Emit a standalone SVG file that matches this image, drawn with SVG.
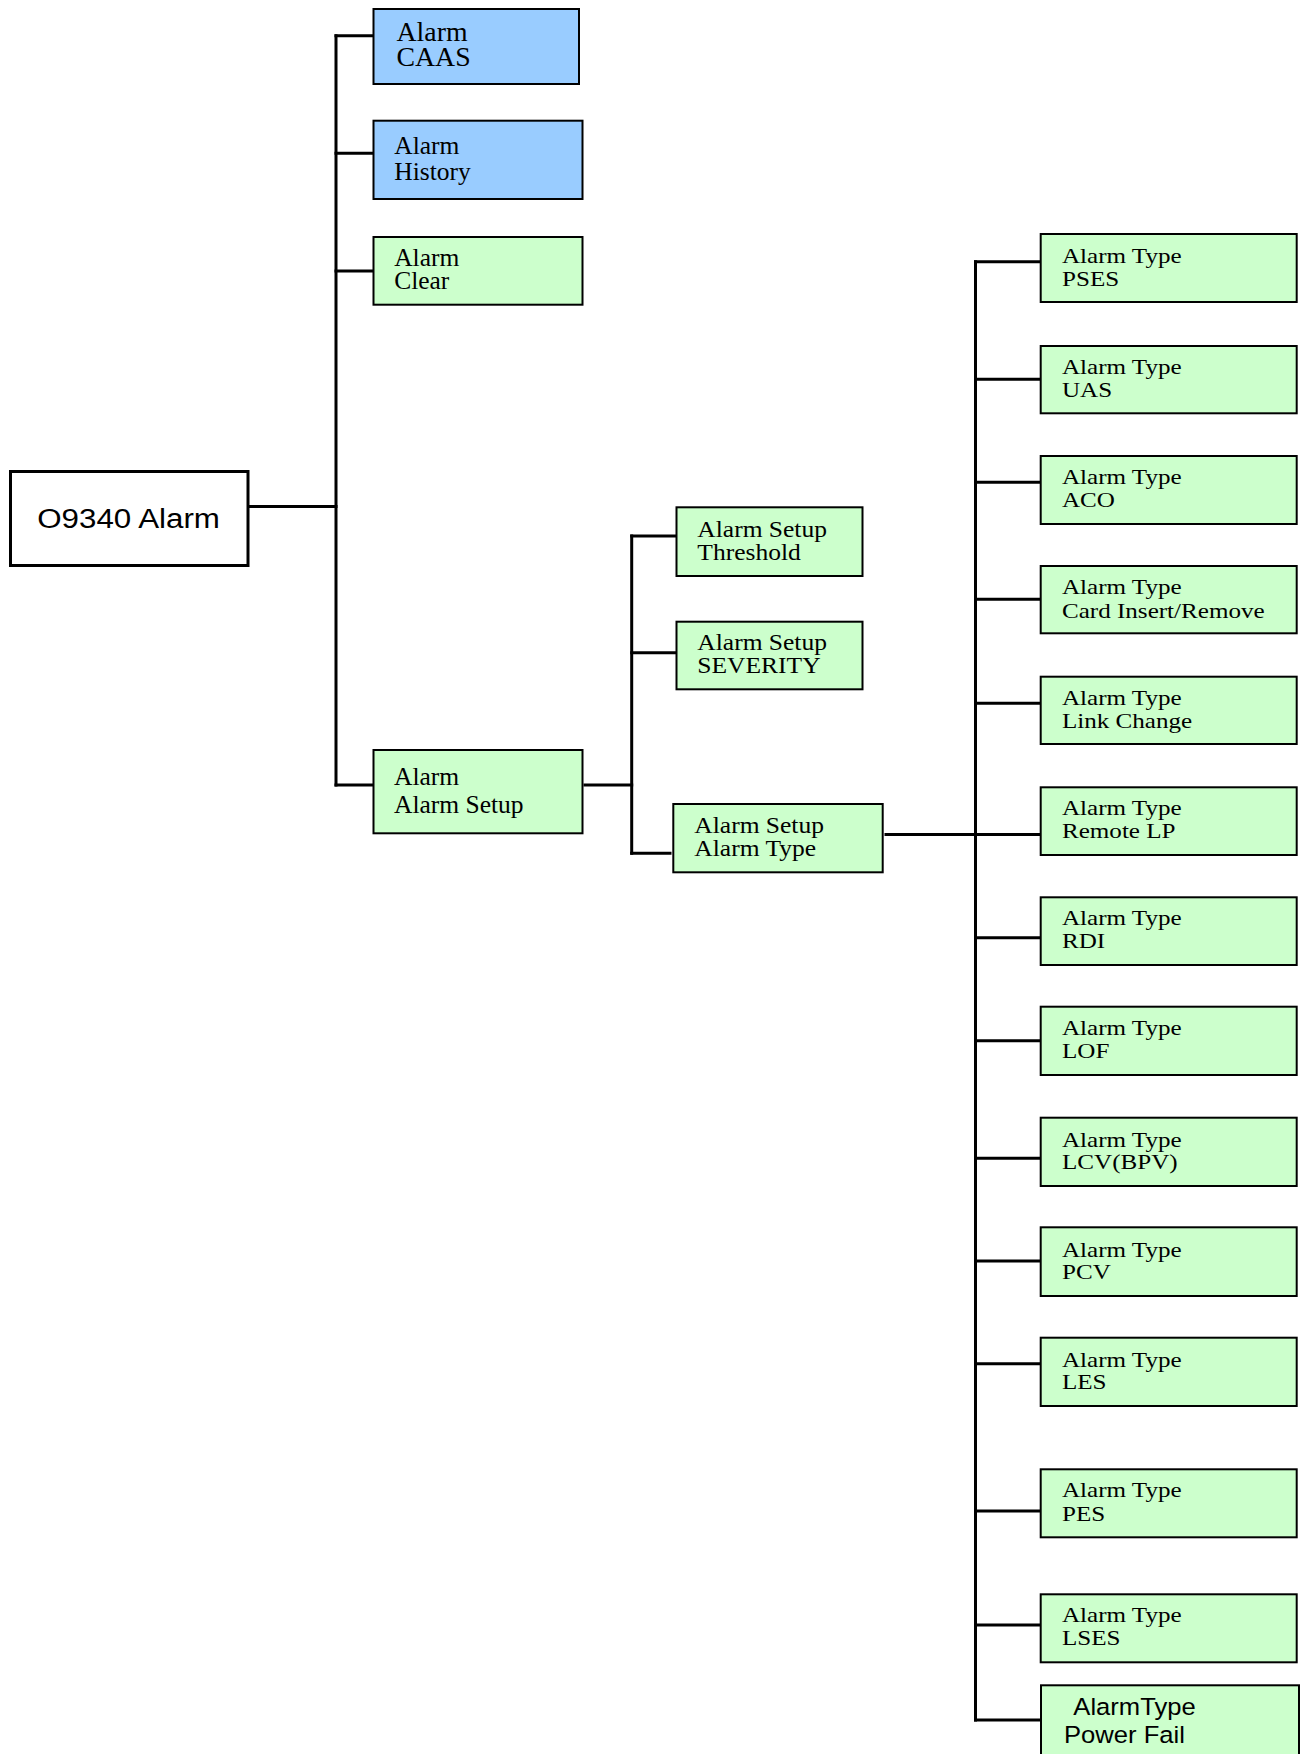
<svg xmlns="http://www.w3.org/2000/svg" width="1305" height="1754" viewBox="0 0 1305 1754">
  <style>
    .box { stroke: #000; stroke-width: 2; }
    .root { fill: #fff; stroke: #000; stroke-width: 3; }
    .blue { fill: #99ccff; }
    .green { fill: #ccffcc; }
    .wire { fill: none; stroke: #000; stroke-width: 3; stroke-linecap: square; }
    text { fill: #000; }
    .serif { font-family: "Liberation Serif", "Times New Roman", serif; }
    .sans { font-family: "Liberation Sans", Arial, sans-serif; }
    .l28 { font-size: 27px; }
    .l { font-size: 25.5px; }
    .lc { font-size: 24.5px; }
    .m { font-size: 23px; }
    .r { font-size: 22px; }
    .pf { font-size: 23.5px; }
    .rt { font-size: 27px; }
  </style>

  <!-- connectors -->
  <g id="connectors" class="wire">
    <!-- root to first level -->
    <path d="M248 506.5 H336"/>
    <path d="M336 35.7 V785"/>
    <path d="M336 35.7 H373.5"/>
    <path d="M336 153.3 H373.5"/>
    <path d="M336 271 H373.5"/>
    <path d="M336 785 H373.5"/>
    <!-- alarm setup to second level -->
    <path d="M585 785 H631.7"/>
    <path d="M631.7 536 V853.3"/>
    <path d="M631.7 536 H676.5"/>
    <path d="M631.7 652.7 H676.5"/>
    <path d="M631.7 853.3 H670"/>
    <!-- alarm type to third level -->
    <path d="M886 834.5 H1040.7"/>
    <path d="M975.5 261.7 V1720"/>
    <path d="M975.5 261.7 H1040.7"/>
    <path d="M975.5 379.3 H1040.7"/>
    <path d="M975.5 482.3 H1040.7"/>
    <path d="M975.5 599.3 H1040.7"/>
    <path d="M975.5 703.3 H1040.7"/>
    <path d="M975.5 937.7 H1040.7"/>
    <path d="M975.5 1040.7 H1040.7"/>
    <path d="M975.5 1158.3 H1040.7"/>
    <path d="M975.5 1261 H1040.7"/>
    <path d="M975.5 1363.7 H1040.7"/>
    <path d="M975.5 1511 H1040.7"/>
    <path d="M975.5 1625 H1040.7"/>
    <path d="M975.5 1720 H1041"/>
  </g>

  <!-- root -->
  <g id="n-root">
    <rect class="root" x="10.5" y="471.5" width="237.5" height="94"/>
    <text class="sans rt" text-anchor="middle" transform="translate(128.6,528) scale(1.16,1)">O9340 Alarm</text>
  </g>

  <!-- first level -->
  <g id="n-caas">
    <rect class="box blue" x="373.5" y="9" width="205.5" height="75"/>
    <text class="serif l28" transform="translate(396.5,40.7) scale(1.03,1)"><tspan x="0" y="0">Alarm</tspan><tspan x="0" y="25.5">CAAS</tspan></text>
  </g>
  <g id="n-history">
    <rect class="box blue" x="373.5" y="120.7" width="209" height="78.3"/>
    <text class="serif l" transform="translate(394.3,154)"><tspan x="0" y="0">Alarm</tspan><tspan x="0" y="26">History</tspan></text>
  </g>
  <g id="n-clear">
    <rect class="box green" x="373.5" y="237" width="209" height="67.7"/>
    <text class="serif lc" transform="translate(394.2,265.7) scale(1.04,1)"><tspan x="0" y="0">Alarm</tspan><tspan x="0" y="23">Clear</tspan></text>
  </g>
  <g id="n-setup">
    <rect class="box green" x="373.5" y="750" width="209" height="83.3"/>
    <text class="serif l" transform="translate(394,785)"><tspan x="0" y="0">Alarm</tspan><tspan x="0" y="27.7">Alarm Setup</tspan></text>
  </g>

  <!-- second level -->
  <g id="n-threshold">
    <rect class="box green" x="676.5" y="507.3" width="186" height="68.7"/>
    <text class="serif m" transform="translate(697.3,536.7) scale(1.11,1)"><tspan x="0" y="0">Alarm Setup</tspan><tspan x="0" y="23.3">Threshold</tspan></text>
  </g>
  <g id="n-severity">
    <rect class="box green" x="676.5" y="621.7" width="186" height="67.6"/>
    <text class="serif m" transform="translate(697.3,650) scale(1.11,1)"><tspan x="0" y="0">Alarm Setup</tspan><tspan x="0" y="23.3">SEVERITY</tspan></text>
  </g>
  <g id="n-type">
    <rect class="box green" x="673.3" y="804" width="209.4" height="68.3"/>
    <text class="serif m" transform="translate(694.3,833.3) scale(1.11,1)"><tspan x="0" y="0">Alarm Setup</tspan><tspan x="0" y="22.7">Alarm Type</tspan></text>
  </g>

  <!-- third level -->
  <g id="n-pses">
    <rect class="box green" x="1040.7" y="234" width="256" height="68"/>
    <text class="serif r" transform="translate(1062,263.3) scale(1.14,1)"><tspan x="0" y="0">Alarm Type</tspan><tspan x="0" y="22.7">PSES</tspan></text>
  </g>
  <g id="n-uas">
    <rect class="box green" x="1040.7" y="346" width="256" height="67.3"/>
    <text class="serif r" transform="translate(1062,374) scale(1.14,1)"><tspan x="0" y="0">Alarm Type</tspan><tspan x="0" y="22.7">UAS</tspan></text>
  </g>
  <g id="n-aco">
    <rect class="box green" x="1040.7" y="456" width="256" height="68"/>
    <text class="serif r" transform="translate(1062,484.3) scale(1.14,1)"><tspan x="0" y="0">Alarm Type</tspan><tspan x="0" y="22.4">ACO</tspan></text>
  </g>
  <g id="n-card">
    <rect class="box green" x="1040.7" y="566" width="256" height="67.3"/>
    <text class="serif r" transform="translate(1062,594) scale(1.14,1)"><tspan x="0" y="0">Alarm Type</tspan><tspan x="0" y="24.3">Card Insert/Remove</tspan></text>
  </g>
  <g id="n-link">
    <rect class="box green" x="1040.7" y="676.7" width="256" height="67.3"/>
    <text class="serif r" transform="translate(1062,705) scale(1.14,1)"><tspan x="0" y="0">Alarm Type</tspan><tspan x="0" y="23.3">Link Change</tspan></text>
  </g>
  <g id="n-remote">
    <rect class="box green" x="1040.7" y="787.3" width="256" height="67.7"/>
    <text class="serif r" transform="translate(1062,815) scale(1.14,1)"><tspan x="0" y="0">Alarm Type</tspan><tspan x="0" y="23.3">Remote LP</tspan></text>
  </g>
  <g id="n-rdi">
    <rect class="box green" x="1040.7" y="897.3" width="256" height="67.7"/>
    <text class="serif r" transform="translate(1062,925) scale(1.14,1)"><tspan x="0" y="0">Alarm Type</tspan><tspan x="0" y="23.3">RDI</tspan></text>
  </g>
  <g id="n-lof">
    <rect class="box green" x="1040.7" y="1006.7" width="256" height="68.3"/>
    <text class="serif r" transform="translate(1062,1035) scale(1.14,1)"><tspan x="0" y="0">Alarm Type</tspan><tspan x="0" y="23.3">LOF</tspan></text>
  </g>
  <g id="n-lcv">
    <rect class="box green" x="1040.7" y="1117.7" width="256" height="68.3"/>
    <text class="serif r" transform="translate(1062,1146.7) scale(1.14,1)"><tspan x="0" y="0">Alarm Type</tspan><tspan x="0" y="22.6">LCV(BPV)</tspan></text>
  </g>
  <g id="n-pcv">
    <rect class="box green" x="1040.7" y="1227.3" width="256" height="68.7"/>
    <text class="serif r" transform="translate(1062,1256.7) scale(1.14,1)"><tspan x="0" y="0">Alarm Type</tspan><tspan x="0" y="22.6">PCV</tspan></text>
  </g>
  <g id="n-les">
    <rect class="box green" x="1040.7" y="1337.7" width="256" height="68.3"/>
    <text class="serif r" transform="translate(1062,1366.7) scale(1.14,1)"><tspan x="0" y="0">Alarm Type</tspan><tspan x="0" y="22.6">LES</tspan></text>
  </g>
  <g id="n-pes">
    <rect class="box green" x="1040.7" y="1469.3" width="256" height="68"/>
    <text class="serif r" transform="translate(1062,1497.3) scale(1.14,1)"><tspan x="0" y="0">Alarm Type</tspan><tspan x="0" y="23.7">PES</tspan></text>
  </g>
  <g id="n-lses">
    <rect class="box green" x="1040.7" y="1594.3" width="256" height="68"/>
    <text class="serif r" transform="translate(1062,1622.3) scale(1.14,1)"><tspan x="0" y="0">Alarm Type</tspan><tspan x="0" y="22.7">LSES</tspan></text>
  </g>
  <g id="n-powerfail">
    <rect class="box green" x="1041" y="1685.3" width="258" height="80"/>
    <text class="sans pf" transform="translate(1073.3,1715) scale(1.09,1)">AlarmType</text>
    <text class="sans pf" transform="translate(1064,1743.3) scale(1.09,1)">Power Fail</text>
  </g>
</svg>
